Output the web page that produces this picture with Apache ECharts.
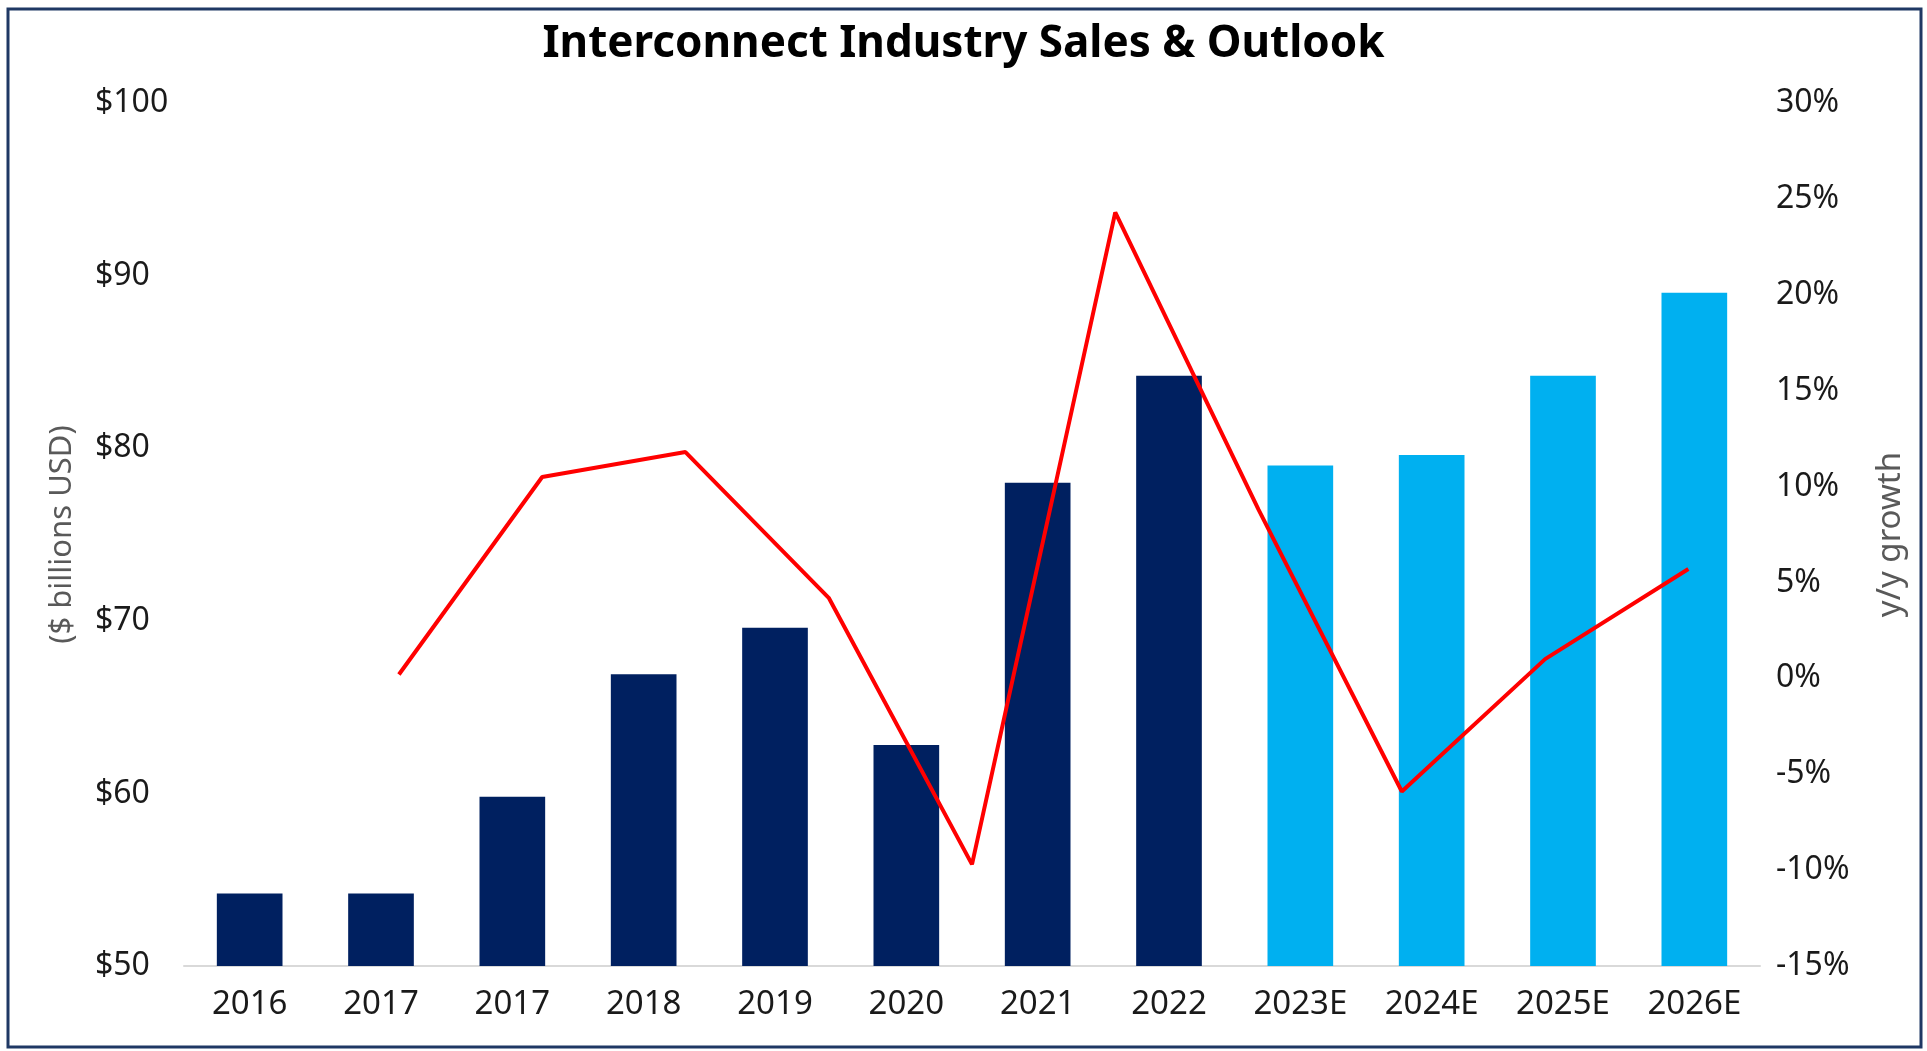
<!DOCTYPE html>
<html>
<head>
<meta charset="utf-8" />
<script src="https://cdn.jsdelivr.net/npm/echarts@6/dist/echarts.min.js"></script>
<style>
  html, body { margin: 0; padding: 0; background: #fff; }
  #chart { width: 1927px; height: 1051px; }
</style>
</head>
<body>
<div id="chart"></div>
<script>
// bar categories (note the duplicated 2017 as printed in the source)
var years = ["2016", "2017", "2017", "2018", "2019", "2020", "2021", "2022", "2023E", "2024E", "2025E", "2026E"];
// sales, $ billions
var sales = [54.2, 54.2, 59.8, 66.9, 69.6, 62.8, 78.0, 84.2, 79.0, 79.6, 84.2, 89.0];
// first 8 bars are actuals, the rest are estimates
var forecastFrom = 8;

// growth line sits on its own 11-slot axis
var growthYears = ["2016", "2017", "2018", "2019", "2020", "2021", "2022", "2023", "2024", "2025", "2026"];
var growth = [null, 0.2, 10.5, 11.8, 4.2, -9.7, 24.3, 8.8, -5.9, 1.0, 5.7];

var navy = "#002060";
var lightBlue = "#00B0F0";
var font = "Noto Sans";
var labelColor = "#1a1a1a";

var chart = echarts.init(document.getElementById("chart"));

var barData = sales.map(function (v, i) {
  return {
    value: v,
    itemStyle: { color: i >= forecastFrom ? lightBlue : navy },
  };
});

var option = {
  backgroundColor: "#ffffff",
  animation: false,
  textStyle: { fontFamily: font },
  title: {
    text: "Interconnect Industry Sales & Outlook",
    left: "center",
    top: 17,
    textStyle: {
      fontFamily: font,
      fontSize: 44,
      fontWeight: "bold",
      color: "#000000",
    },
  },
  graphic: [
    {
      type: "rect",
      shape: { x: 8, y: 9, width: 1913, height: 1038 },
      style: { fill: "none", stroke: "#1F3864", lineWidth: 3 },
      z: 100,
    },
  ],
  grid: {
    left: 184,
    right: 167,
    top: 103,
    bottom: 85,
  },
  xAxis: [
    {
      type: "category",
      data: years,
      axisLine: { onZero: false, lineStyle: { color: "#d9d9d9", width: 2 } },
      axisTick: { show: false },
      axisLabel: {
        fontFamily: font,
        fontSize: 33,
        color: labelColor,
        margin: 22,
      },
    },
    {
      type: "category",
      data: growthYears,
      position: "bottom",
      show: false,
      axisLine: { show: false, onZero: false },
    },
  ],
  yAxis: [
    {
      type: "value",
      min: 50,
      max: 100,
      interval: 10,
      position: "left",
      name: "($ billions USD)",
      nameLocation: "middle",
      nameRotate: 90,
      nameGap: 106,
      nameTextStyle: { fontFamily: font, fontSize: 31, color: "#595959" },
      axisLine: { show: false },
      axisTick: { show: false },
      splitLine: { show: false },
      axisLabel: {
        formatter: "${value}",
        align: "left",
        margin: 89,
        fontFamily: font,
        fontSize: 32,
        color: labelColor,
      },
    },
    {
      type: "value",
      min: -15,
      max: 30,
      interval: 5,
      position: "right",
      name: "y/y growth",
      nameLocation: "middle",
      nameRotate: 90,
      nameGap: 114,
      nameTextStyle: { fontFamily: font, fontSize: 33, color: "#595959" },
      axisLine: { show: false },
      axisTick: { show: false },
      splitLine: { show: false },
      axisLabel: {
        formatter: "{value}%",
        align: "left",
        margin: 16,
        fontFamily: font,
        fontSize: 32,
        color: labelColor,
      },
    },
  ],
  series: [
    {
      name: "Sales",
      type: "bar",
      xAxisIndex: 0,
      yAxisIndex: 0,
      barWidth: "50%",
      data: barData,
    },
    {
      name: "y/y growth",
      type: "line",
      xAxisIndex: 1,
      yAxisIndex: 1,
      data: growth,
      symbol: "none",
      connectNulls: false,
      lineStyle: { color: "#FF0000", width: 4 },
      z: 5,
    },
  ],
};

chart.setOption(option);
</script>
</body>
</html>
